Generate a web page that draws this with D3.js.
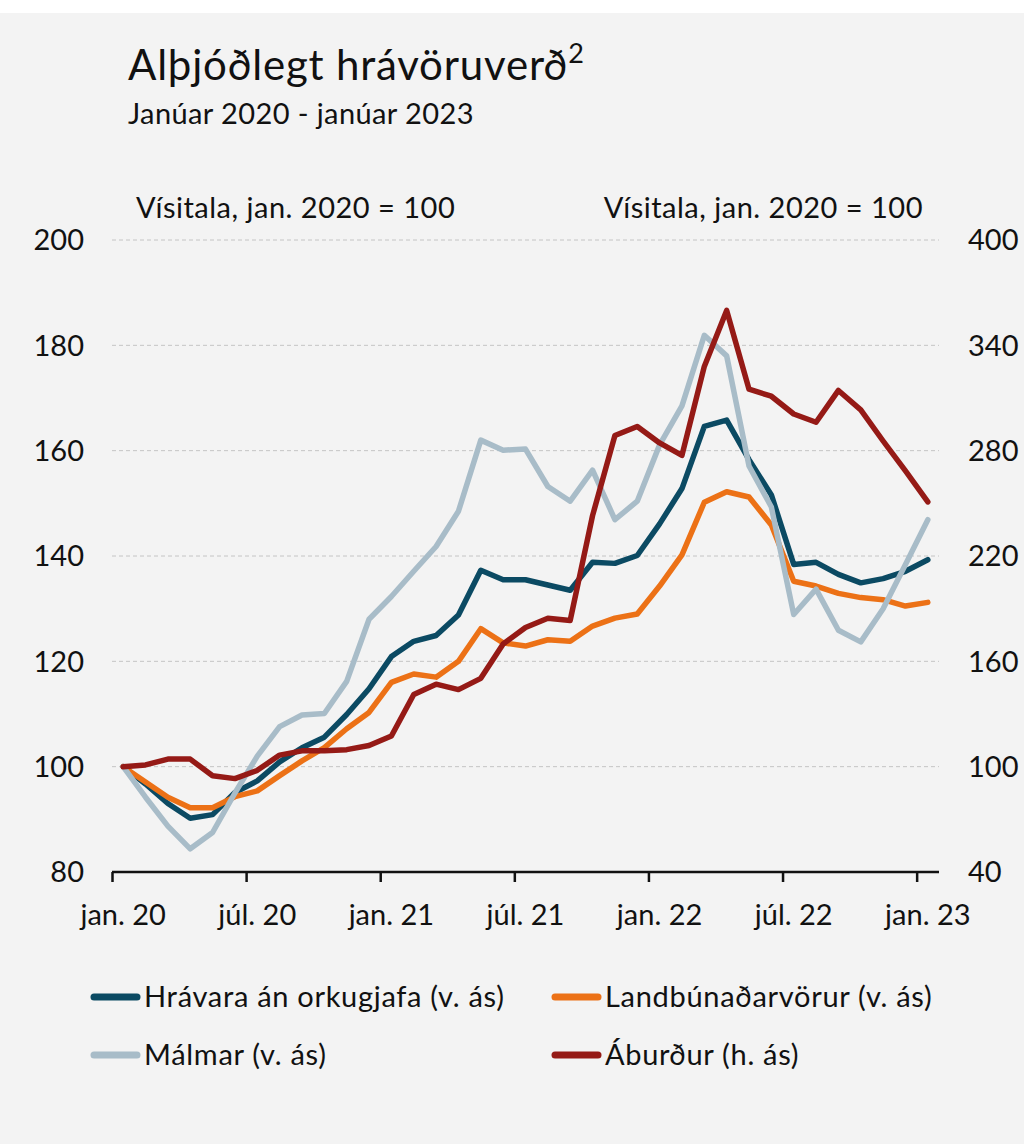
<!DOCTYPE html>
<html>
<head>
<meta charset="utf-8">
<script src="https://cdn.jsdelivr.net/npm/d3@7"></script>
<style>
  body { margin: 0; background: #ffffff; }
  text { font-family: Lato, 'Open Sans', sans-serif; fill: #111; }
</style>
</head>
<body>
<div class="first"></div>
<script>
// Monthly index values, jan. 2020 - jan. 2023 (jan. 2020 = 100)
const months = d3.range(37);
const tickLabels = ["jan. 20", "júl. 20", "jan. 21", "júl. 21", "jan. 22", "júl. 22", "jan. 23"];
const leftTicks = [80, 100, 120, 140, 160, 180, 200];
const rightTicks = [40, 100, 160, 220, 280, 340, 400];

const hravara = [100.0, 96.7, 93.0, 90.2, 90.9, 95.1, 97.3, 100.9, 103.6, 105.6, 109.9, 114.8,
                 120.9, 123.8, 124.9, 128.8, 137.3, 135.5, 135.5, 134.5, 133.5, 138.8, 138.6, 140.1,
                 146.1, 152.8, 164.6, 165.8, 158.3, 151.6, 138.4, 138.8, 136.5, 134.9, 135.7, 137.1, 139.3];
const landbunadur = [100.0, 97.1, 94.2, 92.2, 92.2, 94.3, 95.4, 98.3, 101.1, 103.6, 107.2, 110.3,
                     116.0, 117.6, 117.0, 120.0, 126.2, 123.5, 122.9, 124.1, 123.8, 126.7, 128.2, 129.0,
                     134.3, 140.2, 150.2, 152.2, 151.2, 145.9, 135.2, 134.3, 132.9, 132.1, 131.7, 130.5, 131.2];
const malmar = [100.0, 94.2, 88.7, 84.4, 87.5, 95.0, 102.0, 107.6, 109.8, 110.1, 116.2, 128.0,
                132.3, 137.1, 141.8, 148.5, 162.0, 160.1, 160.3, 153.2, 150.4, 156.3, 146.9, 150.4,
                161.1, 168.5, 181.9, 178.0, 157.1, 149.3, 128.9, 133.7, 125.9, 123.7, 130.0, 138.4, 146.9];
const aburdur = [100.0, 101.0, 104.3, 104.3, 94.8, 93.2, 97.9, 106.6, 109.0, 109.0, 109.7, 112.1,
                 117.5, 141.1, 147.0, 143.9, 150.3, 169.9, 179.3, 184.5, 183.3, 243.0, 288.6, 293.8,
                 284.4, 277.3, 328.0, 359.9, 315.0, 311.0, 300.9, 296.2, 314.3, 303.2, 285.5, 268.5, 250.8];

const series = [
    {name: "Hrávara án orkugjafa (v. ás)", values: hravara, color: "#0b4a63", axis: "left"},
    {name: "Landbúnaðarvörur (v. ás)", values: landbunadur, color: "#ec7116", axis: "left"},
    {name: "Málmar (v. ás)", values: malmar, color: "#a8bcc8", axis: "left"},
    {name: "Áburður (h. ás)", values: aburdur, color: "#951a16", axis: "right"}
];

const width = 1025;
const height = 1144;
const margin = {top: 240, left: 112, right: 86, bottom: 272};

const svg = d3.select('.first')
    .append('svg')
    .attr('width', width)
    .attr('height', height);

// grey panel
svg.append('rect')
    .attr('x', 0)
    .attr('y', 13)
    .attr('width', 1024)
    .attr('height', height - 13)
    .attr('fill', '#f3f3f3');

// scales: one category per month, points in the middle of each category
const xScale = d3.scaleLinear()
    .domain([0, 37])
    .range([margin.left, width - margin.right]);

const yLeft = d3.scaleLinear()
    .domain([80, 200])
    .range([height - margin.bottom, margin.top]);

const yRight = d3.scaleLinear()
    .domain([40, 400])
    .range([height - margin.bottom, margin.top]);

// gridlines
svg.append('g')
    .selectAll('line')
    .data(leftTicks.slice(1))
    .enter()
    .append('line')
    .attr('x1', xScale(0))
    .attr('x2', xScale(37))
    .attr('y1', d => yLeft(d))
    .attr('y2', d => yLeft(d))
    .attr('stroke', '#c4c4c4')
    .attr('stroke-width', 1)
    .attr('stroke-dasharray', '4,3');

// y axis labels
svg.append('g')
    .selectAll('text')
    .data(leftTicks)
    .enter()
    .append('text')
    .attr('x', 84)
    .attr('y', d => yLeft(d))
    .attr('dy', '0.36em')
    .attr('text-anchor', 'end')
    .attr('font-size', 29)
    .text(d => d);

svg.append('g')
    .selectAll('text')
    .data(rightTicks)
    .enter()
    .append('text')
    .attr('x', 968)
    .attr('y', d => yRight(d))
    .attr('dy', '0.36em')
    .attr('text-anchor', 'start')
    .attr('font-size', 29)
    .text(d => d);

// x axis
const xAxis = d3.axisBottom(xScale)
    .tickValues(d3.range(0, 37, 6))
    .tickSize(10)
    .tickFormat('');

const gx = svg.append('g')
    .attr('transform', `translate(0,${height - margin.bottom})`)
    .call(xAxis);
gx.select('.domain').attr('stroke', '#111').attr('stroke-width', 2.5).attr('d', `M${xScale(0)},0H${xScale(37)}`);
gx.selectAll('.tick line').attr('stroke', '#111').attr('stroke-width', 2.5);

svg.append('g')
    .selectAll('text')
    .data(tickLabels)
    .enter()
    .append('text')
    .attr('x', (d, i) => xScale(i * 6 + 0.5))
    .attr('y', 925)
    .attr('text-anchor', 'middle')
    .attr('font-size', 29)
    .text(d => d);

// lines
const line = d3.line()
    .x((d, i) => xScale(months[i] + 0.5));

series.forEach(s => {
    const yScale = s.axis === 'left' ? yLeft : yRight;
    svg.append('path')
        .datum(s.values)
        .attr('fill', 'none')
        .attr('stroke', s.color)
        .attr('stroke-width', 5.5)
        .attr('stroke-linejoin', 'round')
        .attr('stroke-linecap', 'round')
        .attr('d', line.y(d => yScale(d)));
});

// title and subtitle
const title = svg.append('text')
    .attr('x', 128)
    .attr('y', 80)
    .attr('font-size', 42)
    .attr('letter-spacing', 0.8)
    .text('Alþjóðlegt hrávöruverð');
title.append('tspan')
    .attr('font-size', 27)
    .attr('dy', -17)
    .text('2');

svg.append('text')
    .attr('x', 128)
    .attr('y', 124)
    .attr('font-size', 29)
    .attr('letter-spacing', 0.4)
    .text('Janúar 2020 - janúar 2023');

// unit labels
svg.append('text')
    .attr('x', 136)
    .attr('y', 218)
    .attr('font-size', 29)
    .attr('letter-spacing', 0.5)
    .text('Vísitala, jan. 2020 = 100');

svg.append('text')
    .attr('x', 923)
    .attr('y', 218)
    .attr('text-anchor', 'end')
    .attr('font-size', 29)
    .attr('letter-spacing', 0.5)
    .text('Vísitala, jan. 2020 = 100');

// legend
const legendPos = [[91, 997], [552, 997], [91, 1055], [552, 1055]];
series.forEach((s, i) => {
    const [lx, ly] = legendPos[i];
    svg.append('line')
        .attr('x1', lx + 3)
        .attr('x2', lx + 46)
        .attr('y1', ly)
        .attr('y2', ly)
        .attr('stroke', s.color)
        .attr('stroke-width', 7)
        .attr('stroke-linecap', 'round');
    svg.append('text')
        .attr('x', lx + 53)
        .attr('y', ly)
        .attr('dy', '0.36em')
        .attr('font-size', 29)
        .attr('letter-spacing', 0.7)
        .text(s.name);
});
</script>
</body>
</html>
